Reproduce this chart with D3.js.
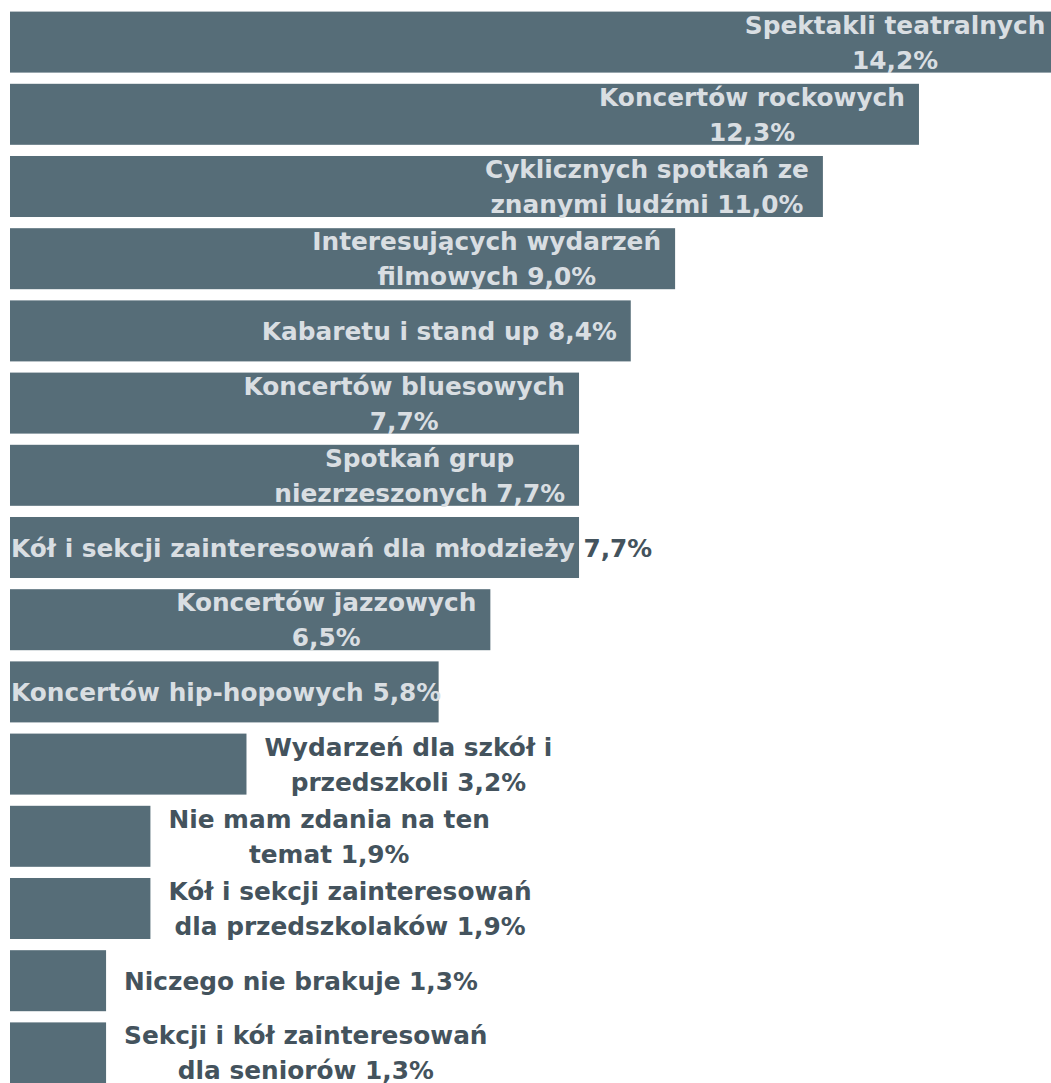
<!DOCTYPE html>
<html>
<head>
<meta charset="utf-8">
<script src="https://cdn.jsdelivr.net/npm/d3@7"></script>
<style>
  html, body { margin: 0; padding: 0; background: #ffffff; }
  svg { display: block; }
  .lbl { font-family: "DejaVu Sans", sans-serif; font-weight: bold; font-size: 24.8px; }
</style>
</head>
<body>
<svg id="chart" width="1051" height="1083"></svg>
<script>
// categories, top to bottom
var categories = [
  "Spektakli teatralnych",
  "Koncertów rockowych",
  "Cyklicznych spotkań ze znanymi ludźmi",
  "Interesujących wydarzeń filmowych",
  "Kabaretu i stand up",
  "Koncertów bluesowych",
  "Spotkań grup niezrzeszonych",
  "Kół i sekcji zainteresowań dla młodzieży",
  "Koncertów jazzowych",
  "Koncertów hip-hopowych",
  "Wydarzeń dla szkół i przedszkoli",
  "Nie mam zdania na ten temat",
  "Kół i sekcji zainteresowań dla przedszkolaków",
  "Niczego nie brakuje",
  "Sekcji i kół zainteresowań dla seniorów"
];

// share of answers, %
var values = [14.2, 12.3, 11.0, 9.0, 8.4, 7.7, 7.7, 7.7, 6.5, 5.8, 3.2, 1.9, 1.9, 1.3, 1.3];

// how the data labels wrap (value is appended to the last line)
var labelLines = [
  ["Spektakli teatralnych", ""],
  ["Koncertów rockowych", ""],
  ["Cyklicznych spotkań ze", "znanymi ludźmi"],
  ["Interesujących wydarzeń", "filmowych"],
  ["Kabaretu i stand up"],
  ["Koncertów bluesowych", ""],
  ["Spotkań grup", "niezrzeszonych"],
  ["Kół i sekcji zainteresowań dla młodzieży"],
  ["Koncertów jazzowych", ""],
  ["Koncertów hip-hopowych"],
  ["Wydarzeń dla szkół i", "przedszkoli"],
  ["Nie mam zdania na ten", "temat"],
  ["Kół i sekcji zainteresowań", "dla przedszkolaków"],
  ["Niczego nie brakuje"],
  ["Sekcji i kół zainteresowań", "dla seniorów"]
];

var barColor = "#566d78",
    insideColor = "#d9dee2",
    outsideColor = "#44535d";

var svg = d3.select("#chart");

var x = d3.scaleLinear().domain([0, 14]).range([10, 10 + 14 * 73.9]);
var y = d3.scaleBand()
  .domain(categories)
  .range([6, 1089])
  .paddingInner(0.155)
  .paddingOuter(0.0775);

var fmt = function(v) { return d3.format(".1f")(v).replace(".", ",") + "%"; };

var data = categories.map(function(c, i) {
  return { name: c, value: values[i], lines: labelLines[i] };
});

svg.append("g").attr("class", "bars")
  .selectAll("rect")
  .data(data)
  .join("rect")
    .attr("x", x(0))
    .attr("y", function(d) { return y(d.name); })
    .attr("width", function(d) { return x(d.value) - x(0); })
    .attr("height", y.bandwidth())
    .attr("fill", barColor);

var lineH = 35, capH = 18;

var labels = svg.append("g").attr("class", "labels")
  .selectAll("text")
  .data(data)
  .join("text")
    .attr("class", "lbl")
    .attr("text-anchor", "middle");

labels.each(function(d) {
  var t = d3.select(this);
  var inside = d.value > 5;
  var end = x(d.value);
  var n = d.lines.length;
  var cy = y(d.name) + y.bandwidth() / 2;
  var base0 = cy - (n - 1) * lineH / 2 + capH / 2;

  t.attr("fill", inside ? insideColor : outsideColor);
  d.lines.forEach(function(ln, j) {
    var ts = t.append("tspan").attr("x", 0).attr("y", base0 + j * lineH);
    if (j === n - 1) {
      if (ln) ts.append("tspan").text(ln + " ");
      ts.append("tspan").attr("class", "val").text(fmt(d.value));
    } else {
      ts.text(ln);
    }
  });

  // widest line decides where the block sits
  var w = 0;
  t.selectAll(function() { return this.childNodes; }).each(function() {
    w = Math.max(w, this.getComputedTextLength());
  });

  var cx = inside ? Math.max(11 + w / 2, end - 14 - w / 2) : end + 18 + w / 2;
  t.selectAll(function() { return this.childNodes; }).attr("x", cx);

  // value that lands fully past the bar end is shown in the dark colour
  if (inside) {
    var v = t.select(".val").node();
    if (v && v.getStartPositionOfChar(0).x > end) {
      d3.select(v).attr("fill", outsideColor);
    }
  }
});
</script>
</body>
</html>
